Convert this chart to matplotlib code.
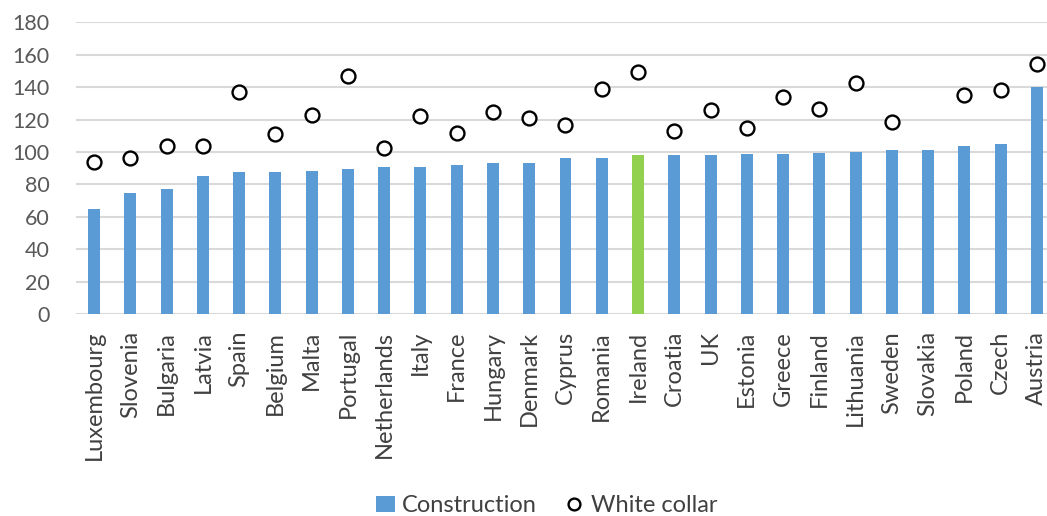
import numpy as np
import matplotlib.pyplot as plt

# Datos
paises = ['Luxembourg', 'Slovenia', 'Bulgaria', 'Latvia', 'Spain', 'Belgium', 'Malta',
          'Portugal', 'Netherlands', 'Italy', 'France', 'Hungary', 'Denmark', 'Cyprus',
          'Romania', 'Ireland', 'Croatia', 'UK', 'Estonia', 'Greece', 'Finland',
          'Lithuania', 'Sweden', 'Slovakia', 'Poland', 'Czech', 'Austria']
construction = [65, 75, 77, 85, 87.5, 87.5, 88, 89.5, 91, 91, 92, 93, 93.5, 96,
                96.5, 98, 98, 98, 98.5, 98.5, 99.5, 100, 101, 101, 104, 105, 140]
white_collar = [94, 96, 103.5, 103.5, 137, 111, 123, 147, 102.5, 122, 111.5, 124.5,
                121, 116.5, 139, 149, 113, 126, 115, 134, 126.5, 142.5, 118.5,
                np.nan, 135, 138, 154.5]

plt.rcParams['font.family'] = ['Lato', 'DejaVu Sans']

fig = plt.figure(figsize=(10.47, 5.16), dpi=100)
ax = fig.add_axes([0.0726, 0.391, 0.9274, 0.566])

x = np.arange(len(paises))
colores = ['#92D050' if p == 'Ireland' else '#5B9BD5' for p in paises]
barras = ax.bar(x, construction, width=0.33, color=colores, zorder=2, label='Construction')
puntos, = ax.plot(x, white_collar, linestyle='none', marker='o', markersize=10,
                  markerfacecolor='white', markeredgecolor='black', markeredgewidth=1.7,
                  zorder=3, label='White collar')

ax.set_ylim(0, 180)
ax.set_yticks(range(0, 181, 20))
ax.set_xlim(-0.5, 26.28)
ax.set_xticks(x)
ax.set_xticklabels(paises, rotation=90, fontsize=17, color='#404040')
ax.tick_params(axis='y', labelsize=15.5, colors='#595959', length=0, pad=19)
ax.tick_params(axis='x', length=0, pad=12)
ax.grid(axis='y', color='#d9d9d9', linewidth=1.5, zorder=0)
for s in ax.spines.values():
    s.set_visible(False)

# Leyenda
fig.legend([barras, puntos], ['Construction', 'White collar'], loc='center',
           bbox_to_anchor=(0.522, 0.02), ncol=2, frameon=False,
           fontsize=17, handlelength=0.8, handletextpad=0.3, columnspacing=1.2,
           labelcolor='#404040', markerscale=0.85)

fig.savefig('out.png', dpi=100)
